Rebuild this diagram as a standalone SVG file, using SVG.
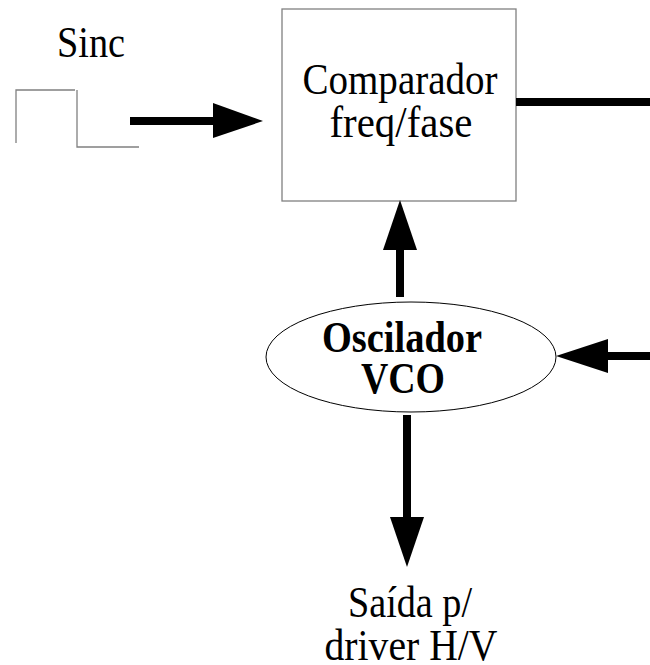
<svg xmlns="http://www.w3.org/2000/svg" width="650" height="665" viewBox="0 0 650 665">
<style>
.t{font-family:"Liberation Serif","Times New Roman",serif;font-size:44px;fill:#000;text-anchor:middle}
.b{font-weight:bold}
.sq{fill:none;stroke:#808080;stroke-width:1.3}
.sh{stroke:#000;stroke-width:8;fill:none}
.hd{fill:#000}
</style>
<rect width="650" height="665" fill="#fff"/>
<g id="sinc">
<text class="t" x="91" y="57" textLength="68" lengthAdjust="spacingAndGlyphs">Sinc</text>
<path class="sq" d="M16,143 V90 H75"/>
<path class="sq" d="M77,90 V147 H139"/>
</g>
<g id="comparador">
<rect x="282" y="9" width="234" height="192" fill="#fff" stroke="#808080" stroke-width="1.3"/>
<text class="t" x="400" y="94" textLength="195" lengthAdjust="spacingAndGlyphs">Comparador</text>
<text class="t" x="401" y="137" textLength="143" lengthAdjust="spacingAndGlyphs">freq/fase</text>
</g>
<g id="oscilador">
<ellipse cx="411" cy="357" rx="145" ry="55" fill="#fff" stroke="#000" stroke-width="1"/>
<text class="t b" x="402" y="352" textLength="160" lengthAdjust="spacingAndGlyphs">Oscilador</text>
<text class="t b" x="403" y="393" textLength="84" lengthAdjust="spacingAndGlyphs">VCO</text>
</g>
<g id="saida">
<text class="t" x="410" y="617" textLength="124" lengthAdjust="spacingAndGlyphs">Saída p/</text>
<text class="t" x="411" y="660" textLength="173" lengthAdjust="spacingAndGlyphs">driver H/V</text>
</g>
<g id="connectors">
<line class="sh" x1="130" y1="121" x2="214" y2="121"/>
<polygon class="hd" points="213,103 263,121 213,138"/>
<line class="sh" x1="516" y1="102" x2="650" y2="102"/>
<line class="sh" x1="400" y1="297" x2="400" y2="249"/>
<polygon class="hd" points="383,250 400,200 417,250"/>
<line class="sh" x1="650" y1="356" x2="607" y2="356"/>
<polygon class="hd" points="608,339 556,356 608,373"/>
<line class="sh" x1="407" y1="415" x2="407" y2="518"/>
<polygon class="hd" points="390,517 407,567 424,517"/>
</g>
</svg>
